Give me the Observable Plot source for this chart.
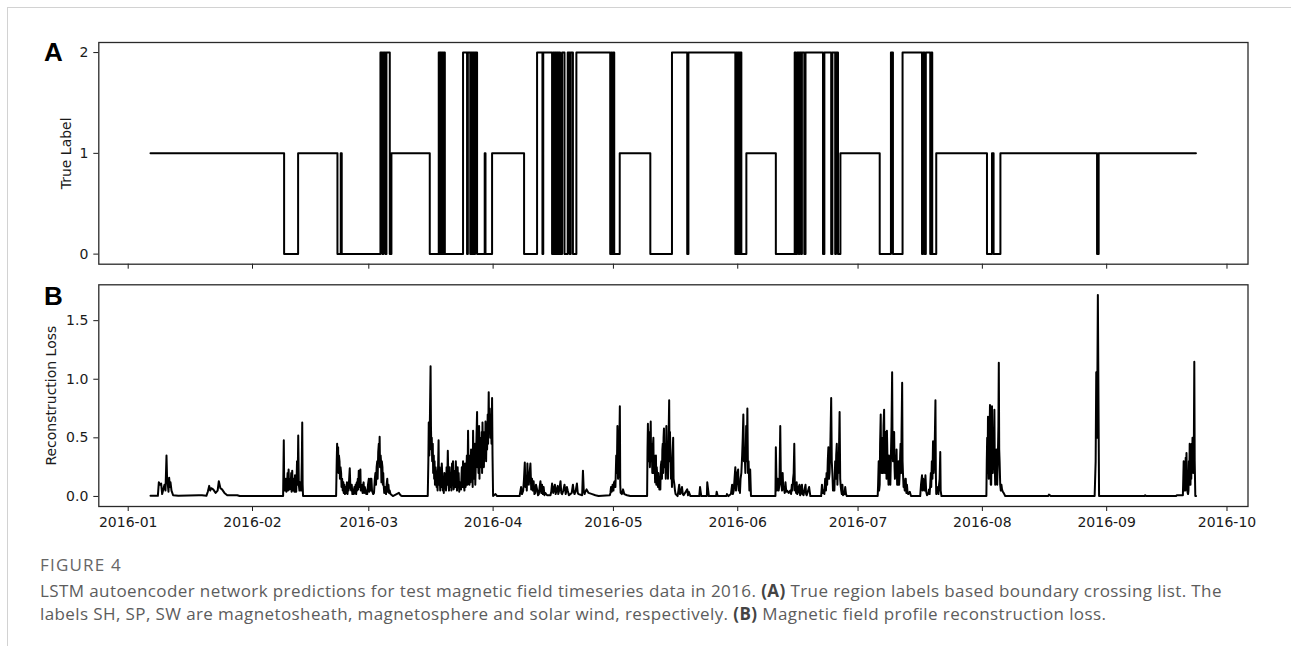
<!DOCTYPE html>
<html>
<head>
<meta charset="utf-8">
<script src="https://cdn.jsdelivr.net/npm/d3@7"></script>
<script src="https://cdn.jsdelivr.net/npm/@observablehq/plot@0.6"></script>
<style>
  html, body { margin: 0; padding: 0; background: #fff; }
  #page { position: relative; width: 1291px; height: 646px; overflow: hidden; background: #fff; }
  #border { position: absolute; left: 7px; top: 7px; right: -2px; bottom: -2px;
            border-top: 1px solid #d2d2d2; border-left: 1px solid #d2d2d2; }
  #pa { position: absolute; left: 0; top: 0; }
  #pb { position: absolute; left: 0; top: 275px; }
  .cap { position: absolute; left: 40px; font-family: "Open Sans", sans-serif; color: #5c5c5c; white-space: nowrap; }
  #figlabel { top: 555px; font-size: 17px; line-height: 20px; letter-spacing: 1.2px; color: #666; }
  #captext { top: 579px; font-size: 17px; line-height: 23px; letter-spacing: 0.4px; }
  #captext b { color: #444; }
</style>
</head>
<body>
<div id="page">
  <div id="border"></div>
  <div id="pa"></div>
  <div id="pb"></div>
  <div class="cap" id="figlabel">FIGURE 4</div>
  <div class="cap" id="captext">LSTM autoencoder network predictions for test magnetic field timeseries data in 2016. <b>(A)</b> True region labels based boundary crossing list. The<br>labels SH, SP, SW are magnetosheath, magnetosphere and solar wind, respectively. <b>(B)</b> Magnetic field profile reconstruction loss.</div>
</div>
<script>
// ---------- DATA (days since 2016-01-01) ----------
const monthTicks = ["2016-01","2016-02","2016-03","2016-04","2016-05","2016-06","2016-07","2016-08","2016-09","2016-10"];
const labelTicks = [0, 1, 2];
const lossTicks = [0, 0.5, 1.0, 1.5];

// True region label: [day, value] — value holds until the next entry
const labelSteps = [
  [5.56,1],[38.88,0],[42.37,1],[52.18,0],[53.0,1],[53.25,0],
  [62.9,2],[63.4,0],[63.65,2],[64.15,0],[64.4,2],[65.23,0],[65.64,1],[75.2,0],
  [77.44,2],[77.7,0],[77.86,2],[78.1,0],[78.3,2],[78.5,0],[78.7,2],[78.96,0],
  [83.5,2],[84.5,0],[84.7,2],[85.3,0],[85.5,2],[85.8,0],[86.0,2],[86.3,0],[86.5,2],[87.0,0],
  [88.9,1],[89.1,0],[90.74,1],[98.72,0],
  [101.96,2],[103.3,0],[103.5,2],
  [105.7,0],[105.95,2],[106.2,0],[106.4,2],[106.7,0],[106.9,2],[107.2,0],[107.4,2],[107.7,0],
  [108.2,2],[108.8,0],[109.6,2],[110.1,0],[110.35,2],[110.9,0],[111.76,2],
  [120.2,0],[120.5,2],[120.7,0],[121.0,2],[121.2,0],[122.57,1],[130.2,0],
  [135.6,2],[139.4,0],[139.7,2],
  [151.4,0],[151.65,2],[151.9,0],[152.15,2],[152.4,0],[152.65,2],[152.9,0],
  [154.15,1],[161.5,0],
  [166.2,2],[166.5,0],[166.8,2],[167.2,0],[167.4,2],[167.8,0],[168.0,2],[168.6,0],[168.9,2],
  [173.26,0],[173.6,2],[175.3,0],[175.6,2],[176.3,0],[176.5,2],[177.0,0],
  [177.6,1],[187.4,0],[190.2,2],[190.7,0],[193.1,2],
  [197.95,0],[198.2,2],[198.6,0],[198.9,2],[200.0,0],[200.3,2],[200.5,0],
  [201.5,1],[214.15,0],[215.4,1],[215.8,0],[217.5,1],[241.6,0],[242.0,1],[266.26,1]
];

// Reconstruction loss: [day, value]
const lossSeries = [
  [5.56,0.005],[7.4,0.005],[7.64,0.12],[8.0,0.1],[8.22,0.11],[8.47,0.02],[9.05,0.1],[9.3,0.05],[9.55,0.35],[9.7,0.15],[9.88,0.1],[10.05,0.04],[10.21,0.16],[10.4,0.08],[10.55,0.12],[10.8,0.05],[11.2,0.01],[12.5,0.005],
  [17.6,0.01],[18.4,0.01],[19.5,0.005],[19.85,0.04],[20.2,0.09],[20.45,0.05],[20.7,0.07],[21.2,0.06],[21.8,0.03],[22.3,0.05],[22.6,0.13],[23.0,0.07],[23.4,0.06],[24.0,0.03],[24.7,0.01],[27.2,0.01],[27.8,0.003],
  [38.63,0.003],[38.8,0.48],[38.9,0.1],[39.05,0.05],[39.2,0.12],[39.3,0.15],[39.45,0.04],[39.6,0.1],[39.75,0.2],[39.85,0.05],[40.0,0.23],[40.1,0.1],[40.25,0.06],[40.4,0.15],[40.5,0.08],[40.65,0.2],[40.75,0.04],[40.9,0.22],[41.0,0.1],[41.1,0.05],[41.2,0.15],[41.3,0.1],[41.45,0.04],[41.6,0.18],[41.7,0.12],[41.8,0.04],[41.9,0.04],[42.0,0.15],[42.1,0.3],[42.25,0.1],[42.4,0.52],[42.55,0.1],[42.7,0.05],[42.85,0.12],[43.0,0.1],[43.15,0.05],[43.3,0.3],[43.4,0.63],[43.5,0.1],[43.6,0.003],
  [51.85,0.003],[52.0,0.3],[52.1,0.45],[52.2,0.3],[52.35,0.42],[52.45,0.2],[52.55,0.35],[52.7,0.3],[52.8,0.15],[52.95,0.25],[53.1,0.2],[53.2,0.08],[53.35,0.15],[53.5,0.05],[53.65,0.12],[53.75,0.03],[53.9,0.1],[54.05,0.02],[54.2,0.08],[54.4,0.03],[54.55,0.12],[54.7,0.02],[54.8,0.1],[54.95,0.05],[55.1,0.15],[55.25,0.24],[55.4,0.08],[55.6,0.05],[55.75,0.1],[55.9,0.02],[56.1,0.06],[56.25,0.02],[56.4,0.08],[56.55,0.03],[56.7,0.1],[56.85,0.02],[57.0,0.12],[57.1,0.05],[57.25,0.15],[57.35,0.06],[57.5,0.22],[57.6,0.08],[57.75,0.18],[57.9,0.23],[58.0,0.05],[58.15,0.1],[58.3,0.08],[58.45,0.03],[58.6,0.1],[58.7,0.12],[58.85,0.03],[59.0,0.08],[59.2,0.05],[59.35,0.02],[59.6,0.02],[59.8,0.1],[60.0,0.15],[60.1,0.04],[60.3,0.08],[60.45,0.15],[60.55,0.05],[60.65,0.15],[60.8,0.05],[61.1,0.02],[61.3,0.03],[61.5,0.15],[61.65,0.2],[61.8,0.1],[61.95,0.25],[62.1,0.3],[62.2,0.15],[62.35,0.38],[62.5,0.45],[62.6,0.3],[62.7,0.51],[62.8,0.25],[62.95,0.35],[63.05,0.3],[63.15,0.12],[63.25,0.3],[63.4,0.25],[63.5,0.1],[63.6,0.2],[63.7,0.1],[63.85,0.03],[64.0,0.08],[64.15,0.05],[64.3,0.02],[64.45,0.1],[64.6,0.15],[64.75,0.04],[64.9,0.1],[65.05,0.03],[65.2,0.05],[65.4,0.02],[66.0,0.003],[67.5,0.03],[67.9,0.01],[68.3,0.003],
  [74.7,0.003],[74.85,0.3],[74.95,0.63],[75.1,0.35],[75.25,0.7],[75.4,1.11],[75.5,0.6],[75.6,0.4],[75.7,0.5],[75.8,0.3],[75.95,0.45],[76.05,0.2],[76.2,0.35],[76.3,0.15],[76.4,0.3],[76.5,0.1],[76.65,0.25],[76.8,0.2],[76.9,0.08],[77.0,0.15],[77.15,0.05],[77.3,0.3],[77.4,0.48],[77.5,0.1],[77.65,0.25],[77.8,0.05],[77.9,0.15],[78.05,0.08],[78.2,0.28],[78.3,0.2],[78.45,0.05],[78.6,0.15],[78.7,0.03],[78.85,0.2],[79.0,0.08],[79.1,0.15],[79.25,0.05],[79.4,0.25],[79.55,0.1],[79.7,0.39],[79.85,0.12],[80.0,0.05],[80.15,0.25],[80.3,0.08],[80.5,0.2],[80.6,0.05],[80.75,0.28],[80.9,0.1],[81.0,0.3],[81.15,0.06],[81.35,0.1],[81.5,0.22],[81.6,0.08],[81.7,0.3],[81.85,0.12],[82.0,0.05],[82.15,0.25],[82.3,0.08],[82.4,0.2],[82.55,0.04],[82.7,0.12],[82.85,0.1],[83.0,0.06],[83.2,0.25],[83.35,0.08],[83.5,0.3],[83.65,0.12],[83.85,0.05],[84.0,0.28],[84.15,0.08],[84.3,0.15],[84.45,0.35],[84.6,0.1],[84.75,0.56],[84.9,0.15],[85.1,0.1],[85.25,0.35],[85.35,0.12],[85.5,0.4],[85.65,0.15],[85.8,0.25],[85.9,0.08],[86.0,0.56],[86.15,0.2],[86.3,0.15],[86.45,0.45],[86.55,0.1],[86.7,0.3],[86.85,0.5],[87.0,0.72],[87.1,0.25],[87.2,0.45],[87.35,0.2],[87.5,0.6],[87.6,0.15],[87.7,0.5],[87.85,0.25],[88.0,0.3],[88.15,0.55],[88.25,0.2],[88.35,0.63],[88.5,0.3],[88.6,0.5],[88.7,0.25],[88.85,0.55],[89.0,0.35],[89.1,0.64],[89.25,0.3],[89.4,0.6],[89.5,0.4],[89.65,0.7],[89.75,0.45],[89.9,0.89],[90.0,0.55],[90.15,0.75],[90.3,0.5],[90.45,0.7],[90.6,0.45],[90.74,0.84],[90.85,0.35],[90.99,0.003],[91.6,0.02],[92.0,0.003],
  [97.6,0.003],[97.97,0.08],[98.2,0.02],[98.5,0.05],[98.7,0.15],[98.9,0.29],[99.05,0.08],[99.2,0.15],[99.4,0.05],[99.55,0.28],[99.7,0.12],[99.9,0.1],[100.1,0.2],[100.3,0.28],[100.5,0.06],[100.7,0.15],[100.9,0.05],[101.1,0.13],[101.3,0.02],[101.5,0.03],[101.7,0.1],[101.96,0.06],[102.2,0.01],[102.4,0.02],[102.6,0.08],[102.8,0.13],[103.0,0.03],[103.2,0.1],[103.4,0.02],[103.6,0.08],[103.8,0.01],[104.0,0.03],[104.45,0.01],[105.3,0.01],[105.5,0.04],[105.7,0.11],[106.0,0.03],[106.2,0.07],[106.4,0.1],[106.6,0.02],[106.8,0.05],[107.1,0.09],[107.25,0.02],[107.4,0.04],[107.6,0.08],[107.8,0.13],[108.0,0.03],[108.2,0.02],[108.5,0.05],[108.8,0.1],[109.1,0.02],[109.4,0.08],[109.6,0.05],[109.9,0.01],[110.6,0.03],[110.9,0.1],[111.1,0.04],[111.3,0.02],[111.6,0.05],[111.9,0.11],[112.1,0.03],[112.3,0.02],[113.2,0.01],[113.4,0.22],[113.6,0.05],[113.8,0.02],[114.0,0.04],[114.3,0.06],[114.8,0.03],[115.7,0.02],[116.5,0.01],[117.3,0.003],
  [120.1,0.01],[120.25,0.03],[120.4,0.08],[120.6,0.04],[120.8,0.1],[121.0,0.05],[121.15,0.12],[121.3,0.13],[121.5,0.08],[121.7,0.35],[121.85,0.2],[122.0,0.6],[122.15,0.15],[122.3,0.2],[122.45,0.4],[122.6,0.77],[122.7,0.1],[122.8,0.03],[123.1,0.02],[123.4,0.06],[123.7,0.02],[124.4,0.01],[125.2,0.003],
  [129.4,0.003],[129.5,0.4],[129.6,0.62],[129.7,0.3],[129.8,0.55],[129.96,0.45],[130.1,0.25],[130.2,0.5],[130.3,0.64],[130.4,0.3],[130.5,0.45],[130.6,0.35],[130.7,0.2],[130.8,0.4],[130.96,0.5],[131.05,0.2],[131.15,0.35],[131.3,0.25],[131.4,0.12],[131.5,0.3],[131.6,0.35],[131.7,0.1],[131.8,0.25],[131.96,0.15],[132.1,0.08],[132.2,0.2],[132.3,0.15],[132.45,0.06],[132.6,0.15],[132.7,0.06],[132.8,0.25],[132.96,0.3],[133.1,0.15],[133.2,0.4],[133.3,0.45],[133.4,0.2],[133.5,0.5],[133.6,0.58],[133.7,0.25],[133.8,0.45],[133.95,0.35],[134.05,0.15],[134.2,0.6],[134.3,0.25],[134.4,0.45],[134.5,0.3],[134.6,0.15],[134.75,0.5],[134.9,0.82],[135.0,0.3],[135.1,0.55],[135.2,0.4],[135.35,0.15],[135.5,0.2],[135.6,0.08],[135.75,0.35],[135.9,0.5],[136.0,0.15],[136.2,0.1],[136.35,0.05],[136.5,0.02],[137.0,0.003],[137.2,0.05],[137.4,0.1],[137.6,0.02],[137.8,0.03],[138.1,0.08],[138.3,0.02],[138.5,0.01],[139.4,0.06],[139.6,0.01],[139.8,0.04],[140.2,0.003],
  [142.4,0.003],[142.6,0.08],[142.9,0.003],[144.3,0.003],[144.4,0.12],[144.8,0.003],[146.6,0.003],[146.75,0.04],[147.0,0.003],[149.2,0.003],[149.3,0.02],[149.7,0.003],[150.3,0.02],[150.45,0.06],[150.6,0.1],[150.8,0.02],[151.0,0.05],[151.2,0.15],[151.4,0.25],[151.55,0.05],[151.7,0.1],[151.9,0.2],[152.1,0.23],[152.25,0.05],[152.4,0.1],[152.55,0.03],[152.7,0.15],[152.9,0.2],[153.1,0.35],[153.25,0.5],[153.4,0.7],[153.55,0.3],[153.7,0.4],[153.9,0.2],[154.1,0.6],[154.25,0.3],[154.4,0.75],[154.55,0.2],[154.7,0.3],[154.9,0.05],[155.1,0.23],[155.3,0.003],
  [161.4,0.003],[161.5,0.42],[161.7,0.05],[161.85,0.1],[162.0,0.15],[162.2,0.05],[162.4,0.1],[162.6,0.6],[162.75,0.15],[162.9,0.1],[163.05,0.05],[163.2,0.2],[163.35,0.06],[163.5,0.08],[163.7,0.03],[163.9,0.12],[164.1,0.04],[164.3,0.05],[164.7,0.03],[165.1,0.05],[165.3,0.02],[165.5,0.1],[165.65,0.05],[165.8,0.15],[165.95,0.2],[166.1,0.45],[166.25,0.05],[166.4,0.1],[166.55,0.03],[166.7,0.12],[166.85,0.02],[167.0,0.03],[167.2,0.08],[167.4,0.1],[167.55,0.01],[167.7,0.02],[167.85,0.08],[168.0,0.1],[168.2,0.02],[168.4,0.01],[168.9,0.1],[169.05,0.02],[169.2,0.01],[169.8,0.08],[170.1,0.003],
  [172.8,0.003],[173.0,0.1],[173.2,0.03],[173.4,0.05],[173.6,0.02],[173.8,0.15],[174.0,0.05],[174.15,0.2],[174.3,0.1],[174.45,0.3],[174.6,0.42],[174.75,0.15],[174.9,0.2],[175.1,0.45],[175.3,0.84],[175.45,0.3],[175.6,0.2],[175.75,0.05],[175.9,0.1],[176.1,0.05],[176.3,0.3],[176.45,0.15],[176.55,0.35],[176.7,0.45],[176.85,0.1],[177.0,0.3],[177.1,0.2],[177.25,0.4],[177.4,0.72],[177.55,0.15],[177.65,0.1],[177.8,0.05],[177.95,0.02],[178.1,0.1],[178.25,0.01],[178.4,0.03],[178.6,0.02],[178.8,0.08],[179.0,0.02],[179.2,0.003],
  [186.9,0.003],[187.0,0.1],[187.15,0.3],[187.25,0.05],[187.4,0.1],[187.5,0.45],[187.65,0.7],[187.75,0.25],[187.9,0.2],[188.0,0.45],[188.15,0.5],[188.25,0.2],[188.35,0.6],[188.5,0.74],[188.6,0.3],[188.7,0.2],[188.85,0.55],[189.0,0.4],[189.1,0.15],[189.2,0.56],[189.35,0.3],[189.5,0.2],[189.6,0.1],[189.7,0.35],[189.85,0.15],[189.95,0.3],[190.05,0.1],[190.2,0.35],[190.35,0.6],[190.5,1.06],[190.6,0.45],[190.7,0.3],[190.85,0.55],[191.0,0.55],[191.1,0.25],[191.2,0.15],[191.35,0.35],[191.5,0.2],[191.6,0.4],[191.75,0.1],[191.9,0.1],[192.0,0.25],[192.1,0.3],[192.25,0.1],[192.4,0.2],[192.5,0.35],[192.6,0.45],[192.75,0.2],[192.85,0.55],[193.0,0.97],[193.1,0.3],[193.2,0.2],[193.35,0.08],[193.5,0.1],[193.65,0.05],[193.8,0.15],[193.9,0.15],[194.05,0.03],[194.2,0.1],[194.35,0.03],[194.5,0.02],[194.7,0.03],[194.9,0.04],[195.2,0.003],
  [197.5,0.003],[197.7,0.1],[197.95,0.18],[198.1,0.05],[198.25,0.15],[198.4,0.1],[198.6,0.05],[198.8,0.18],[199.0,0.04],[199.2,0.01],[199.4,0.02],[199.55,0.03],[199.7,0.06],[199.85,0.02],[200.0,0.1],[200.15,0.2],[200.25,0.08],[200.4,0.3],[200.55,0.15],[200.7,0.47],[200.85,0.2],[201.0,0.3],[201.15,0.5],[201.3,0.82],[201.4,0.2],[201.5,0.02],[201.7,0.08],[201.9,0.05],[202.05,0.02],[202.2,0.1],[202.35,0.15],[202.5,0.38],[202.6,0.05],[202.8,0.003],
  [214.0,0.003],[214.1,0.3],[214.2,0.5],[214.3,0.2],[214.4,0.68],[214.5,0.35],[214.6,0.15],[214.7,0.3],[214.8,0.55],[214.9,0.78],[215.0,0.3],[215.1,0.1],[215.2,0.1],[215.3,0.45],[215.4,0.77],[215.5,0.3],[215.6,0.2],[215.7,0.5],[215.85,0.35],[216.0,0.74],[216.1,0.25],[216.2,0.1],[216.35,0.3],[216.5,0.4],[216.6,0.15],[216.7,0.1],[216.85,0.3],[217.0,0.6],[217.1,1.14],[217.2,0.4],[217.3,0.3],[217.45,0.1],[217.6,0.05],[217.75,0.1],[217.9,0.06],[218.1,0.04],[218.3,0.03],[218.7,0.003],
  [229.4,0.003],[229.6,0.015],[230.1,0.003],[241.0,0.003],[241.25,0.3],[241.4,1.06],[241.6,0.5],[241.8,1.72],[242.1,0.003],[253.4,0.003],[253.6,0.01],[253.8,0.003],
  [261.3,0.003],[261.5,0.01],[263.0,0.01],[263.1,0.15],[263.2,0.3],[263.3,0.1],[263.4,0.05],[263.5,0.25],[263.6,0.05],[263.7,0.33],[263.8,0.1],[263.9,0.37],[264.0,0.15],[264.1,0.05],[264.2,0.03],[264.3,0.02],[264.4,0.05],[264.5,0.3],[264.6,0.1],[264.7,0.45],[264.8,0.2],[264.9,0.1],[265.0,0.35],[265.1,0.15],[265.2,0.45],[265.3,0.2],[265.4,0.5],[265.5,0.25],[265.6,0.4],[265.7,0.2],[265.85,1.15],[265.95,0.3],[266.1,0.003],[266.3,0.003]
];

// ---------- DRAWING ----------
const dayToDate = d => new Date(Date.UTC(2016, 0, 1) + d * 864e5);
const parseMonth = d3.utcParse("%Y-%m");
const fmtMonth = d3.utcFormat("%Y-%m");
const xTicks = monthTicks.map(parseMonth);
const xDomain = [dayToDate(-7.33), dayToDate(279.24)];

const common = {
  width: 1291,
  marginLeft: 98.3,
  marginRight: 43.5,
  style: { fontFamily: "DejaVu Sans", fontSize: "14px", color: "#1a1a1a", background: "transparent", overflow: "visible" }
};

const plotA = Plot.plot({
  ...common,
  height: 275,
  marginTop: 42,
  marginBottom: 11.3,
  x: { type: "utc", domain: xDomain },
  y: { domain: [-0.1, 2.1] },
  marks: [
    Plot.axisX({ ticks: xTicks, tickSize: 5, tickFormat: () => "", label: null }),
    Plot.axisY({ ticks: labelTicks, tickSize: 5, tickPadding: 5.5, tickFormat: d => String(d), label: null }),
    Plot.line(labelSteps, { x: d => dayToDate(d[0]), y: d => d[1], curve: "step-after", stroke: "#000", strokeWidth: 2 }),
    Plot.frame({ stroke: "#2a2a2a", strokeWidth: 1.3 }),
    Plot.text(["True Label"], { text: d => d, frameAnchor: "left", dx: -32, rotate: -90, textAnchor: "middle", fontSize: 14 }),
    Plot.text(["A"], { text: d => d, frameAnchor: "top-left", dx: -45.5, dy: 0, lineAnchor: "top", textAnchor: "middle",
                       fontSize: 26, fontWeight: "bold", fontFamily: "Liberation Sans", fill: "#000" })
  ]
});
document.getElementById("pa").appendChild(plotA);

const plotB = Plot.plot({
  ...common,
  height: 265,
  marginTop: 9.3,
  marginBottom: 34,
  x: { type: "utc", domain: xDomain },
  y: { domain: [-0.086, 1.806] },
  marks: [
    Plot.axisX({ ticks: xTicks, tickSize: 5, tickPadding: 5.5, tickFormat: fmtMonth, label: null }),
    Plot.axisY({ ticks: lossTicks, tickSize: 5, tickPadding: 5.5, tickFormat: d3.format(".1f"), label: null }),
    Plot.line(lossSeries, { x: d => dayToDate(d[0]), y: d => d[1], stroke: "#000", strokeWidth: 2 }),
    Plot.frame({ stroke: "#2a2a2a", strokeWidth: 1.3 }),
    Plot.text(["Reconstruction Loss"], { text: d => d, frameAnchor: "left", dx: -47, rotate: -90, textAnchor: "middle", fontSize: 14 }),
    Plot.text(["B"], { text: d => d, frameAnchor: "top-left", dx: -45.5, dy: 1.7, lineAnchor: "top", textAnchor: "middle",
                       fontSize: 26, fontWeight: "bold", fontFamily: "Liberation Sans", fill: "#000" })
  ]
});
document.getElementById("pb").appendChild(plotB);
</script>
</body>
</html>
